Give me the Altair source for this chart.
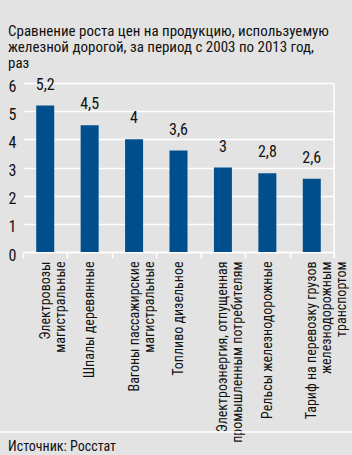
import altair as alt
import pandas as pd

categories = [
    "Электровозы\nмагистральные",
    "Шпалы деревянные",
    "Вагоны пассажирские\nмагистральные",
    "Топливо дизельное",
    "Электроэнергия, отпущенная\nпромышленным потребителям",
    "Рельсы железнодорожные",
    "Тариф на перевозку грузов\nжелезнодорожным\nтранспортом",
]
values = [5.2, 4.5, 4.0, 3.6, 3.0, 2.8, 2.6]
y_ticks = [0, 1, 2, 3, 4, 5, 6]
title_lines = [
    "Сравнение роста цен на продукцию, используемую",
    "железной дорогой, за период с 2003 по 2013 год,",
    "раз",
]
source_text = "Источник: Росстат"

FONT = "Roboto Condensed"
BG = "#e3e3e3"
BAR = "#004f8c"
TXT = "#111111"
W, H = 311, 169

df = pd.DataFrame({"cat": categories, "value": values})

x_enc = alt.X(
    "cat:N",
    sort=categories,
    scale=alt.Scale(paddingInner=0, paddingOuter=0),
    axis=alt.Axis(
        title=None,
        labelExpr="split(datum.label, '\\n')",
        labelAngle=-90,
        labelFontSize=14,
        labelLineHeight=15,
        labelFont=FONT,
        labelColor=TXT,
        labelPadding=3,
        tickSize=6,
        tickColor="white",
        tickWidth=1.5,
        tickBand="extent",
        domainColor="white",
        domainWidth=1.5,
        grid=False,
        labelLimit=300,
    ),
)
y_enc = alt.Y(
    "value:Q",
    scale=alt.Scale(domain=[0, 6], nice=False),
    axis=alt.Axis(
        title=None,
        values=y_ticks,
        ticks=False,
        domain=False,
        grid=True,
        gridColor="white",
        gridOpacity=1,
        gridWidth=1.5,
        labelOverlap=False,
        labelFontSize=16,
        labelFont=FONT,
        labelColor=TXT,
        labelPadding=7,
        labelOffset=3,
    ),
)

base = alt.Chart(df)
bars = base.mark_bar(color=BAR, width=18).encode(x=x_enc, y=y_enc)
texts = base.mark_text(
    baseline="bottom", dy=-13, fontSize=16, font=FONT, color=TXT
).transform_calculate(
    lab="replace(toString(datum.value), '.', ',')"
).encode(x=x_enc, y=y_enc, text="lab:N")

one = alt.Data(values=[{"a": 1}])
right_rule = alt.Chart(one).mark_rule(color="white", strokeWidth=1.5).encode(
    x=alt.value(W), y=alt.value(0), y2=alt.value(H + 6)
)
sep_rule = alt.Chart(one).mark_rule(color="white", strokeWidth=1.5).encode(
    x=alt.value(-23), x2=alt.value(329), y=alt.value(349)
)
footer = alt.Chart(one).mark_text(
    align="left", baseline="alphabetic", fontSize=14, font=FONT, color=TXT
).encode(x=alt.value(-15), y=alt.value(368), text=alt.value(source_text))

chart = (
    alt.layer(bars, texts, right_rule, sep_rule, footer)
    .properties(
        width=W,
        height=H,
        autosize=alt.AutoSizeParams(type="none"),
        padding={"left": 23, "top": 83, "right": 18, "bottom": 203},
        background=BG,
        title=alt.TitleParams(
            text=title_lines,
            anchor="start",
            frame="group",
            dx=-15,
            offset=6,
            fontSize=15,
            lineHeight=16,
            font=FONT,
            fontWeight="normal",
            color=TXT,
        ),
    )
    .configure_view(stroke=None)
)

chart.save("out.html", embed_options={"renderer": "svg", "actions": False})
